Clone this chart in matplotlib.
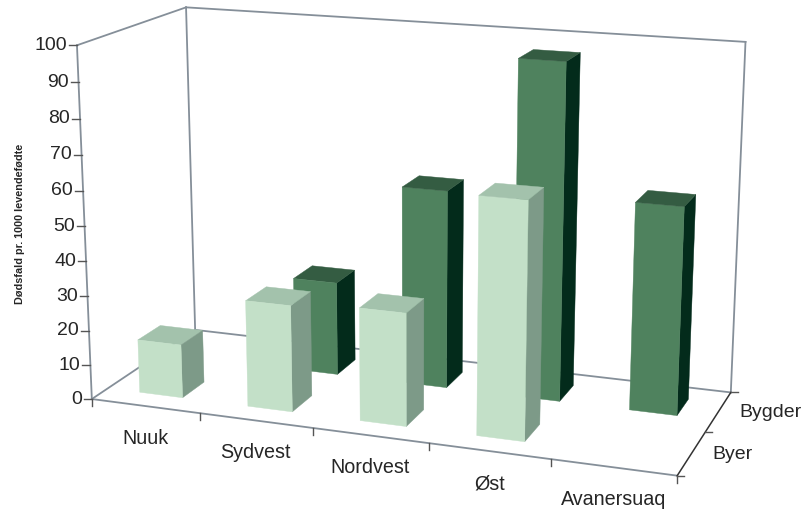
#!/usr/bin/python3
import matplotlib
matplotlib.use('Agg')
import matplotlib.pyplot as plt
import numpy as np
from matplotlib.lines import Line2D

plt.rcParams['font.family'] = ['Liberation Sans', 'DejaVu Sans']

regions = ['Nuuk', 'Sydvest', 'Nordvest', 'Øst', 'Avanersuaq']
series = ['Byer', 'Bygder']
byer = [15.5, 30.5, 32, 66, None]
bygder = [None, 27.5, 57.5, 96, 59]
ticks = [0, 10, 20, 30, 40, 50, 60, 70, 80, 90, 100]

W, H = 805, 513
ZMAX = 100

# light, top, side colours per series
styles = {'Byer': ('#C3E0C8', '#A3C2AC', '#7D9A88'),
          'Bygder': ('#4F825E', '#345C42', '#032B1B')}
wall_col = '#858F99'
text_col = '#262626'

# box corners (x, y, z) and where they sit in the picture, used to fit the camera
box3d = [(0, 0, 0), (5, 0, 0), (0, 2, 0), (5, 2, 0),
         (0, 0, ZMAX), (0, 2, ZMAX), (5, 2, ZMAX)]
box2d = [(92, 399), (677, 476), (195, 330), (731, 392),
         (77, 45), (186, 7.5), (745.5, 42)]

rows = []
for (x, y, z), (u, v) in zip(box3d, box2d):
    v = H - v
    rows.append([x, y, z, 1, 0, 0, 0, 0, -u*x, -u*y, -u*z, -u])
    rows.append([0, 0, 0, 0, x, y, z, 1, -v*x, -v*y, -v*z, -v])
P = np.linalg.svd(np.array(rows, dtype=float))[2][-1].reshape(3, 4)
if P[2, 3] < 0:
    P = -P


def to_px(x, y, z):
    u, v, w = P @ np.array([x, y, z, 1.0])
    return u / w, H - v / w


fig = plt.figure(figsize=(W / 100, H / 100), dpi=100)
ax = fig.add_subplot(projection='3d', computed_zorder=False)
ax.set_position([0, -(W - H) / 2 / H, 1, W / H])
ax.set_axis_off()
ax.set_xlim(0, 5)
ax.set_ylim(0, 2)
ax.set_zlim(0, ZMAX)


def get_proj():
    # fitted camera instead of the view_init one
    inv = ax.transData.inverted().get_matrix()
    A = np.array([[inv[0, 0], inv[0, 1], 0, inv[0, 2]],
                  [inv[1, 0], inv[1, 1], 0, inv[1, 2]],
                  [0, 0, 1, 0],
                  [0, 0, 0, 1]])
    M = np.array([P[0], P[1], [0, 0, 0, -1], P[2]])
    return A @ M


ax.get_proj = get_proj


def line3d(xs, ys, zs, col=wall_col, lw=1.3, zorder=1):
    ax.plot(xs, ys, zs, color=col, lw=lw, zorder=zorder, clip_on=False)


def line_px(xs, ys, col=wall_col, lw=1.0):
    fig.add_artist(Line2D(np.array(xs) / W, 1 - np.array(ys) / H, color=col, lw=lw,
                          transform=fig.transFigure))


# walls and floor
line3d([0, 0], [0, 0], [0, ZMAX])
line3d([0, 0], [2, 2], [0, ZMAX])
line3d([5, 5], [2, 2], [0, ZMAX])
line3d([0, 0], [0, 2], [ZMAX, ZMAX])
line3d([0, 5], [2, 2], [ZMAX, ZMAX])
line3d([0, 0], [0, 2], [0, 0])
line3d([0, 5], [2, 2], [0, 0])
line3d([0, 5], [0, 0], [0, 0])
line3d([5, 5], [0, 2], [0, 0], col='#333333', lw=1.1, zorder=20)

# bars, back row first
bar_w = 0.4
bar_d = 0.42
order = 2
for j, (name, values) in reversed(list(enumerate(zip(series, [byer, bygder])))):
    front, top, side = styles[name]
    none = (0, 0, 0, 0)
    cols = [none, top, front, none, none, side]
    for i, val in enumerate(values):
        if val is None:
            continue
        ax.bar3d(i + 0.3, j + 0.29, 0, bar_w, bar_d, val,
                 color=cols, edgecolor=cols, linewidth=0.3, shade=False, zorder=order)
        order += 1

# value axis
for t in ticks:
    px, py = to_px(0, 0, t)
    line_px([px - 8, px], [py, py], col='#555555')
    fig.text((px - 10) / W, 1 - py / H, str(t), ha='right', va='center',
             fontsize=14, color=text_col)
px, py = to_px(0, 0, 0)
line_px([px, px], [py, py + 7], col='#555555')

# region axis
for i in range(1, 6):
    px, py = to_px(i, 0, 0)
    line_px([px, px], [py, py + 7], col='#555555')
for i, name in enumerate(regions):
    px, py = to_px(i + 0.5, 0, 0)
    fig.text(px / W, 1 - (py + 32.5) / H, name, ha='center', va='center',
             fontsize=14.2, color=text_col)

# series axis
for j in range(0, 3):
    px, py = to_px(5, j, 0)
    line_px([px, px + 7], [py, py], col='#555555')
for j, name in enumerate(series):
    px, py = to_px(5, j + 0.5, 0)
    fig.text((px + 21) / W, 1 - (py + 1) / H, name, ha='left', va='center',
             fontsize=14, color=text_col)

fig.text(20 / W, 1 - 224 / H, 'Dødsfald pr. 1000 levendefødte', rotation=90,
         ha='center', va='center', fontsize=7.8, fontweight='bold', color=text_col)

plt.savefig('out.png', dpi=100)
